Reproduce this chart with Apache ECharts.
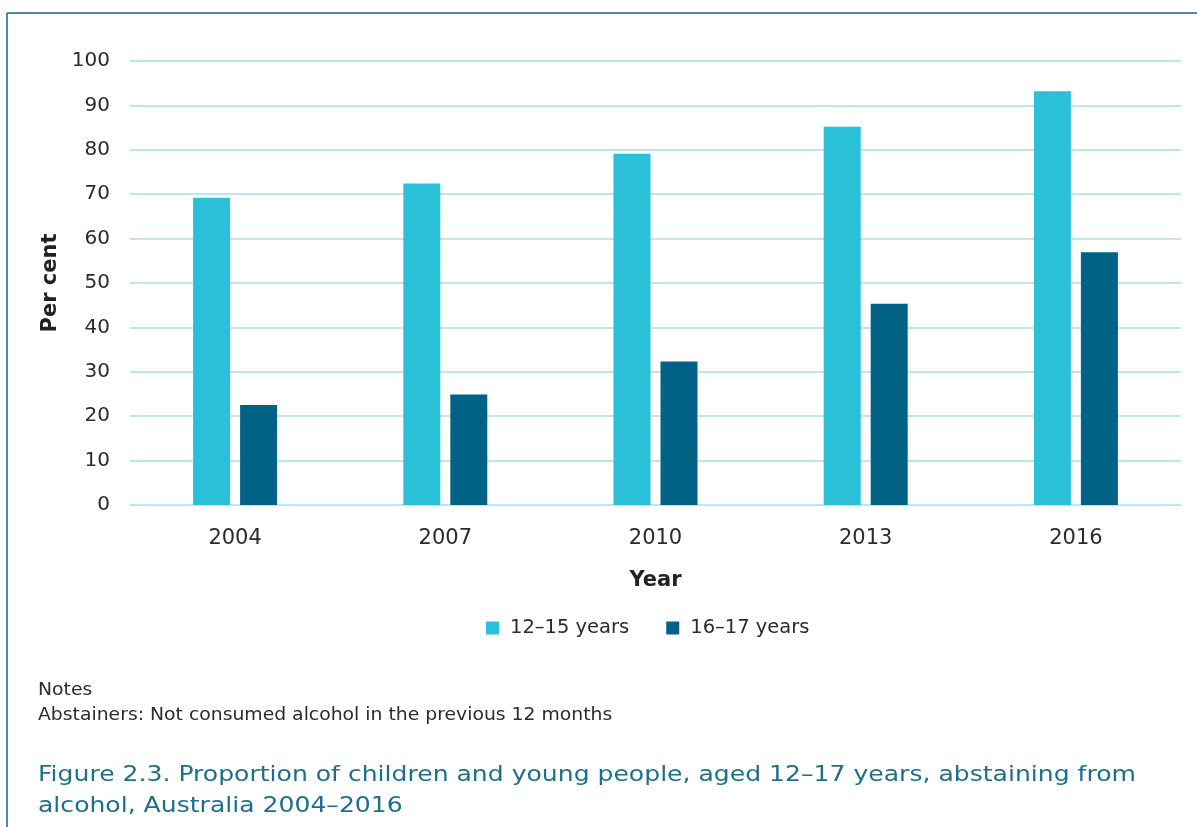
<!DOCTYPE html>
<html>
<head>
<meta charset="utf-8">
<script src="https://cdn.jsdelivr.net/npm/echarts@6/dist/echarts.min.js"></script>
<style>
html,body{margin:0;padding:0;background:#fff;}
#c{width:1197px;height:827px;}
</style>
</head>
<body>
<div id="c"></div>
<script>
const categories = ['2004', '2007', '2010', '2013', '2016'];
const seriesNames = ['12–15 years', '16–17 years'];
const values1215 = [69.2, 72.4, 79.1, 85.2, 93.2];
const values1617 = [22.5, 24.9, 32.3, 45.3, 56.9];
const yTicks = [0, 10, 20, 30, 40, 50, 60, 70, 80, 90, 100];

const FONT = '"DejaVu Sans", "Open Sans", sans-serif';
const chart = echarts.init(document.getElementById('c'), null, {renderer: 'canvas'});
chart.setOption({
  animation: false,
  textStyle: {fontFamily: FONT},
  grid: {left: 130, right: 16, top: 61, bottom: 322, containLabel: false},
  legend: {
    data: seriesNames,
    top: 613,
    left: 481,
    itemWidth: 13,
    itemHeight: 13,
    itemGap: 37,
    icon: 'rect',
    textStyle: {fontSize: 19.5, color: '#2b2b2b', fontFamily: FONT, padding: [0, 0, 0, 6]}
  },
  xAxis: {
    type: 'category',
    data: categories,
    name: 'Year',
    nameLocation: 'middle',
    nameGap: 65,
    nameTextStyle: {fontSize: 21, fontWeight: 'bold', color: '#222', fontFamily: FONT},
    axisLine: {show: false},
    axisTick: {show: false},
    axisLabel: {fontSize: 21, color: '#2b2b2b', margin: 23, fontFamily: FONT}
  },
  yAxis: {
    type: 'value',
    min: 0,
    max: 100,
    interval: 10,
    name: 'Per cent',
    nameLocation: 'middle',
    nameGap: 63,
    nameRotate: 90,
    nameTextStyle: {fontSize: 21, fontWeight: 'bold', color: '#222', fontFamily: FONT},
    axisLine: {show: false},
    axisTick: {show: false},
    axisLabel: {fontSize: 20, color: '#2b2b2b', margin: 20, fontFamily: FONT,
      formatter: v => yTicks.includes(v) ? String(v) : ''},
    splitLine: {lineStyle: {color: '#bfe5ee', width: 2}}
  },
  series: [
    {
      name: seriesNames[0], type: 'bar', data: values1215,
      barWidth: 37, barGap: '27%',
      itemStyle: {color: '#29c0d8'}
    },
    {
      name: seriesNames[1], type: 'bar', data: values1617,
      barWidth: 37,
      itemStyle: {color: '#006385'}
    }
  ],
  graphic: [
    {type: 'line', shape: {x1: 7, y1: 13, x2: 1197, y2: 13}, style: {stroke: '#4a8aa5', lineWidth: 2}},
    {type: 'line', shape: {x1: 7, y1: 13, x2: 7, y2: 827}, style: {stroke: '#4a8aa5', lineWidth: 2}},
    {type: 'text', x: 38, y: 682, scaleX: 1.12, style: {text: 'Notes', fontSize: 16.8, fill: '#2b2b2b', fontFamily: FONT}},
    {type: 'text', x: 38, y: 707, scaleX: 1.12, style: {text: 'Abstainers: Not consumed alcohol in the previous 12 months', fontSize: 16.8, fill: '#2b2b2b', fontFamily: FONT}},
    {type: 'text', x: 38, y: 760, scaleX: 1.14, style: {text: 'Figure 2.3. Proportion of children and young people, aged 12–17 years, abstaining from\nalcohol, Australia 2004–2016', fontSize: 22, lineHeight: 31, fill: '#1d6f8c', fontFamily: FONT}}
  ]
});
</script>
</body>
</html>
